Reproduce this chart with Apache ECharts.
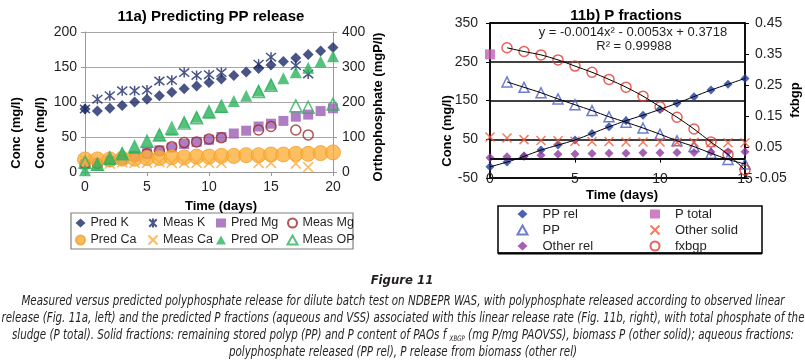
<!DOCTYPE html>
<html>
<head>
<meta charset="utf-8">
<script src="https://cdn.jsdelivr.net/npm/echarts@6/dist/echarts.min.js"></script>
<style>
html, body { margin: 0; padding: 0; background: #fff; }
#chart { width: 805px; height: 362px; }
</style>
</head>
<body>
<div id="chart"></div>
<script>
// 11a) Predicting PP release
const daysA = [0, 1, 2, 3, 4, 5, 6, 7, 8, 9, 10, 11, 12, 13, 14, 15, 16, 17, 18, 19, 20];
const predK = [90, 87, 91, 95, 100, 104, 109, 114, 119, 123, 128, 133, 138, 143, 148, 153, 158, 163, 168, 173, 178];
const predMg = [11, 13, 16, 19, 23, 27, 31, 35, 40, 43, 46, 50, 55, 59, 65, 69, 73, 79, 82, 87, 91];
const predCa = [18, 18, 18, 19, 19, 20, 20, 21, 21, 22, 22, 23, 23, 24, 24, 25, 25, 26, 26, 27, 28];
const predOP = [5, 20, 37, 54, 69, 86, 106, 121, 143, 158, 170, 186, 203, 218, 233, 250, 268, 285, 298, 316, 331];

const measDays = [0, 1, 2, 3, 4, 5, 6, 7, 8, 9, 10, 11, 14, 15, 17, 18];
const measK = [90, 104, 109, 116, 116, 117, 130, 131, 142, 138, 139, 142, 154, 164, 152, 140];
const measMg = [12, 12, 15, 18, 22, 26, 30, 36, 42, 43, 47, 49, 60, 65, 60, 53];
const measCa = [17, 13, 12, 14, 13, 13, 14, 13, 13, 13, 13, 13, 13, 13, 12, 7];
const measOPDays = [0, 1, 2, 3, 4, 5, 6, 7, 8, 9, 10, 11, 14, 15, 17, 18, 20];
const measOP = [28, 22, 40, 52, 72, 88, 106, 125, 140, 155, 172, 188, 230, 248, 189, 185, 194];

// 11b) P fractions
const daysB = [0, 1, 2, 3, 4, 5, 6, 7, 8, 9, 10, 11, 12, 13, 14, 15];
const ppRel = [-21, -9, 6, 22, 35, 48, 65, 82, 98, 112, 127, 143, 160, 177, 192, 207];
const otherRel = [2, 5, 7, 9, 11, 12, 13, 14, 14, 15, 15, 16, 16, 17, 18, 18];
const otherSolid = [56, 53, 49, 47, 46, 45, 44, 44, 43, 43, 43, 42, 42, 41, 41, 41];
const ppDays = [1, 2, 3, 4, 5, 6, 7, 8, 9, 10, 11, 12, 13, 14, 15];
const pp = [198, 184, 170, 154, 139, 124, 108, 94, 79, 63, 46, 31, 14, -2, -14];
const fxbgp = [0.370, 0.358, 0.347, 0.331, 0.311, 0.291, 0.268, 0.243, 0.214, 0.180, 0.146, 0.108, 0.066, 0.026, -0.024];
const pTotalDays = [0];
const pTotal = [269];

// caption lines
const captionLines = [
    'Measured versus predicted polyphosphate release for dilute batch test on NDBEPR WAS, with polyphosphate released according to observed linear',
    'release (Fig. 11a, left) and the predicted P fractions (aqueous and VSS) associated with this linear release rate (Fig. 11b, right), with total phosphate of the',
    ['sludge (P total). Solid fractions: remaining stored polyp (PP) and P content of PAOs f ', 'XBGP', ' (mg P/mg PAOVSS), biomass P (other solid); aqueous fractions:'],
    'polyphosphate released (PP rel), P release from biomass (other rel)'
];

const FONT = 'Liberation Sans, Arial, sans-serif';
const CAP_FONT = '"DejaVu Sans Condensed", "Liberation Sans Narrow", sans-serif';
const X_MARK = 'path://M0,0L10,10M10,0L0,10';
const STAR_MARK = 'path://M0,0L10,10M10,0L0,10M5,-1L5,11';

const pairs = (xs, ys) => xs.map((x, i) => [x, ys[i]]);

function scatter(name, xs, ys, sym, size, style, xi, yi) {
    return {
        name: name, type: 'scatter', xAxisIndex: xi, yAxisIndex: yi,
        symbol: sym, symbolSize: size, itemStyle: style,
        data: pairs(xs, ys)
    };
}
function trend(xs, ys, yi) {
    return {
        name: '_trend', type: 'line', xAxisIndex: 1, yAxisIndex: yi,
        symbol: 'none', smooth: 0.3, silent: true, z: 5,
        lineStyle: { color: '#000', width: 1 },
        data: pairs(xs, ys)
    };
}
const open = c => ({ color: 'none', borderColor: c, borderWidth: 1.5 });

// caption is squeezed horizontally like the condensed font of the original;
// one scale for all lines, taken from the full-width second line
const measureCtx = document.createElement('canvas').getContext('2d');
function textWidth(str, font) {
    measureCtx.font = font;
    return measureCtx.measureText(str).width;
}
const capFont = 'italic 14px ' + CAP_FONT;
const subFont = 'italic 7.5px ' + CAP_FONT;
const capScale = 803 / textWidth(captionLines[1], capFont);
const capY = [301, 318, 335, 352];
const captionGraphics = captionLines.map((line, i) => {
    const text = Array.isArray(line) ? line[0] + '{s|' + line[1] + '}' + line[2] : line;
    return {
        type: 'text', x: 403, y: capY[i], scaleX: capScale,
        style: {
            text: text, font: capFont, fill: '#231f20', align: 'center', verticalAlign: 'middle',
            rich: { s: { font: subFont, fill: '#231f20', lineHeight: 16, verticalAlign: 'bottom' } }
        }
    };
});

const chart = echarts.init(document.getElementById('chart'));

const labelA = { fontFamily: FONT, fontSize: 14, color: '#231f20' };
const greyLine = { lineStyle: { color: '#9a9a9a', width: 1 } };
const blackLine = { lineStyle: { color: '#000', width: 1.5 } };

function legendCol(left, top, names, gap, textPad, size) {
    return {
        left: left, top: top, orient: 'vertical', padding: 0,
        itemWidth: 10, itemHeight: 9, itemGap: gap,
        textStyle: { fontFamily: FONT, fontSize: size, color: '#231f20', lineHeight: 14,
                     padding: [0, 0, 0, textPad] },
        data: names
    };
}
function axisTitle(x, y, text, rotated) {
    return {
        type: 'text', x: x, y: y, rotation: rotated ? Math.PI / 2 : 0,
        style: { text: text, font: 'bold 13px ' + FONT, fill: '#000', align: 'center', verticalAlign: 'middle' }
    };
}

chart.setOption({
    animation: false,
    textStyle: { fontFamily: FONT },
    title: [
        { text: '11a) Predicting PP release', left: 206, top: 4, textAlign: 'center',
          textStyle: { fontFamily: FONT, fontSize: 15, fontWeight: 'bold', color: '#000' } },
        { text: '11b) P fractions', left: 621, top: 3, textAlign: 'center',
          textStyle: { fontFamily: FONT, fontSize: 15, fontWeight: 'bold', color: '#000' } }
    ],
    grid: [
        { left: 85, top: 32, width: 248, height: 140 },
        { left: 490, top: 23, width: 255, height: 155, show: true,
          borderColor: '#000', borderWidth: 1.5, backgroundColor: 'transparent' }
    ],
    xAxis: [
        { gridIndex: 0, type: 'value', min: 0, max: 20, interval: 5,
          axisLine: greyLine, axisTick: { show: true, length: 4, lineStyle: { color: '#9a9a9a' } },
          axisLabel: Object.assign({ margin: 8 }, labelA), splitLine: { show: false } },
        { gridIndex: 1, type: 'value', min: 0, max: 15, interval: 5,
          axisLine: blackLine, axisTick: { show: true, length: 4, lineStyle: { color: '#000' } },
          axisLabel: Object.assign({ margin: -6 }, labelA), splitLine: { show: false } }
    ],
    yAxis: [
        { gridIndex: 0, type: 'value', min: 0, max: 200, interval: 50,
          axisLine: Object.assign({ show: true }, greyLine),
          axisTick: { show: true, length: 4, lineStyle: { color: '#9a9a9a' } },
          axisLabel: Object.assign({ margin: 8 }, labelA),
          splitLine: { show: true, lineStyle: { color: '#a6a6a6', width: 1 } } },
        { gridIndex: 0, type: 'value', position: 'right', min: 0, max: 400, interval: 100,
          axisLine: Object.assign({ show: true }, greyLine),
          axisTick: { show: true, length: 4, lineStyle: { color: '#9a9a9a' } },
          axisLabel: Object.assign({ margin: 9 }, labelA), splitLine: { show: false } },
        { gridIndex: 1, type: 'value', min: -50, max: 350, interval: 100,
          axisLine: Object.assign({ show: true }, blackLine),
          axisTick: { show: true, length: 4, lineStyle: { color: '#000' } },
          axisLabel: Object.assign({ margin: 12 }, labelA),
          splitLine: { show: true, lineStyle: { color: '#000', width: 1.5 } } },
        { gridIndex: 1, type: 'value', position: 'right', min: -0.05, max: 0.45, interval: 0.1,
          axisLine: Object.assign({ show: true }, blackLine),
          axisTick: { show: true, length: 4, lineStyle: { color: '#000' } },
          axisLabel: Object.assign({ margin: 10, formatter: v => v.toFixed(2) }, labelA),
          splitLine: { show: false } }
    ],
    legend: [
        legendCol(75, 216, ['Pred K', 'Pred Ca'], 3, 0, 12.5),
        legendCol(146, 216, ['Meas K', 'Meas Ca'], 3, 0, 12.5),
        legendCol(216, 216, ['Pred Mg', 'Pred OP'], 3, 0, 12.5),
        legendCol(285, 216, ['Meas Mg', 'Meas OP'], 3, 0, 12.5),
        legendCol(515, 207, ['PP rel', 'PP', 'Other rel'], 2, 10, 13),
        legendCol(648, 207, ['P total', 'Other solid', 'fxbgp'], 2, 10, 13)
    ],
    series: [
        scatter('Pred K', daysA, predK, 'diamond', 11, { color: '#1b2a68' }, 0, 0),
        scatter('Meas K', measDays, measK, STAR_MARK, 10, open('#1b2a68'), 0, 0),
        scatter('Pred Mg', daysA, predMg, 'rect', 10, { color: '#9a5cb4' }, 0, 0),
        scatter('Meas Mg', measDays, measMg, 'circle', 10, open('#9b2b2b'), 0, 0),
        scatter('Pred Ca', daysA, predCa, 'circle', 15, { color: '#fbb03b', borderColor: '#f39c2c', borderWidth: 1 }, 0, 0),
        scatter('Meas Ca', measDays, measCa, X_MARK, 10, open('#f8ab3a'), 0, 0),
        scatter('Pred OP', daysA, predOP, 'triangle', 12, { color: '#2db35d' }, 0, 1),
        scatter('Meas OP', measOPDays, measOP, 'triangle', 12, open('#2db35d'), 0, 1),

        scatter('PP rel', daysB, ppRel, 'diamond', 9, { color: '#1f3d9c' }, 1, 2),
        scatter('P total', pTotalDays, pTotal, 'rect', 10, { color: '#c35fb4' }, 1, 2),
        scatter('PP', ppDays, pp, 'triangle', 10, open('#4a5cc4'), 1, 2),
        scatter('Other solid', daysB, otherSolid, X_MARK, 9, open('#f25a3c'), 1, 2),
        Object.assign(scatter('Other rel', daysB, otherRel, 'diamond', 9, { color: '#8e3a9e' }, 1, 2), {
            markLine: { silent: true, symbol: 'none', label: { show: false },
                        lineStyle: { color: '#000', width: 1.5, type: 'solid' }, data: [{ yAxis: 0 }] }
        }),
        scatter('fxbgp', ppDays, fxbgp, 'circle', 10, open('#e03a30'), 1, 3),
        trend(daysB, ppRel, 2),
        trend(ppDays, pp, 2),
        trend(ppDays, fxbgp, 3)
    ],
    graphic: [
        // legend boxes
        { type: 'rect', shape: { x: 71, y: 213, width: 282, height: 36 },
          style: { fill: 'none', stroke: '#808080', lineWidth: 1.2 } },
        { type: 'rect', shape: { x: 498, y: 206, width: 264, height: 47 },
          style: { fill: 'none', stroke: '#000', lineWidth: 1.5 } },
        { type: 'line', shape: { x1: 498, y1: 253.5, x2: 762, y2: 253.5 },
          style: { stroke: '#000', lineWidth: 2 } },
        // axis titles
        axisTitle(16, 133, 'Conc (mg/l)', true),
        axisTitle(40, 133, 'Conc (mg/l)', true),
        axisTitle(378, 107, 'Orthophosphate (mgP/l)', true),
        axisTitle(221, 206, 'Time (days)', false),
        axisTitle(447, 131, 'Conc (mg/l)', true),
        axisTitle(795, 100, 'fxbgp', true),
        axisTitle(622, 195, 'Time (days)', false),
        // trendline equation
        { type: 'text', x: 633, y: 32,
          style: { text: 'y = -0.0014x² - 0.0053x + 0.3718', font: '13px ' + FONT, fill: '#231f20', align: 'center', verticalAlign: 'middle' } },
        { type: 'text', x: 634, y: 46,
          style: { text: 'R² = 0.99988', font: '13px ' + FONT, fill: '#231f20', align: 'center', verticalAlign: 'middle' } },
        // caption
        { type: 'text', x: 402, y: 281,
          style: { text: 'Figure 11', font: 'italic bold 13px ' + CAP_FONT, fill: '#231f20', align: 'center', verticalAlign: 'middle' } }
    ].concat(captionGraphics)
});
</script>
</body>
</html>
